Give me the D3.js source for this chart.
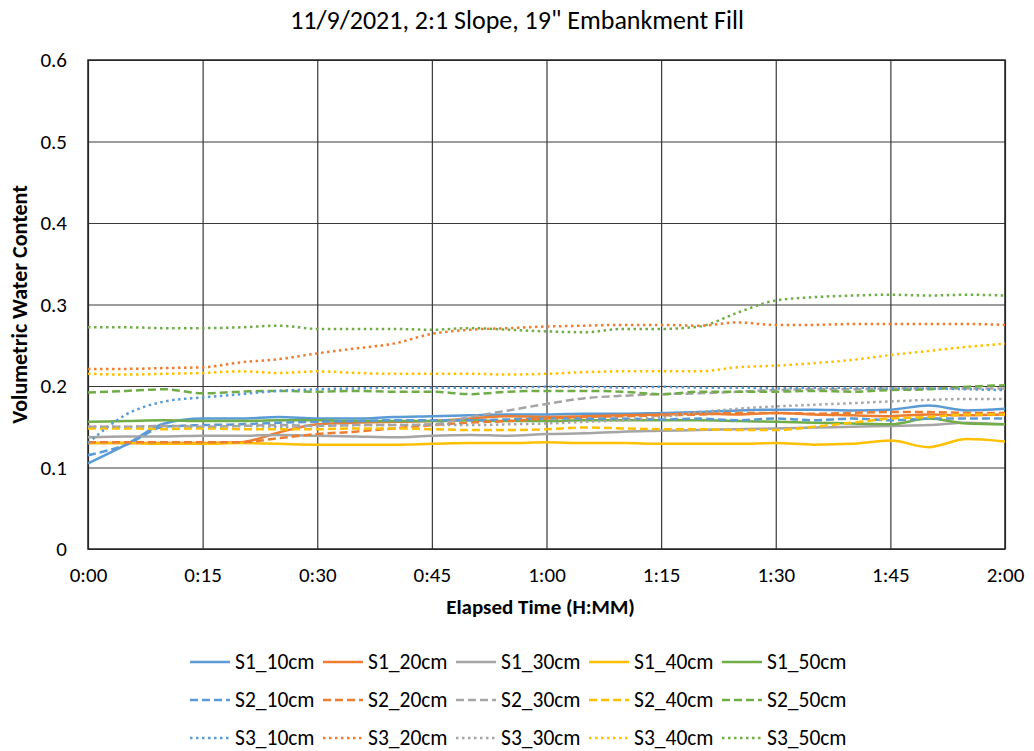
<!DOCTYPE html>
<html><head><meta charset="utf-8">
<script src="https://cdn.jsdelivr.net/npm/d3@7"></script>
<style>
body{margin:0;background:#fff}
text{font-family:Carlito,Calibri,Lato,sans-serif;fill:#000}
</style>
</head><body>
<svg id="chart" width="1034" height="751"></svg>
<script>
// ---- data ----
const minutes = [0,5,10,15,20,25,30,35,40,45,50,55,60,65,70,75,80,85,90,95,100,105,110,115,120];
const S1_10cm = [0.105,0.128,0.154,0.160,0.160,0.162,0.160,0.160,0.162,0.163,0.164,0.165,0.165,0.166,0.166,0.167,0.168,0.170,0.171,0.171,0.170,0.171,0.176,0.170,0.172];
const S1_20cm = [0.130,0.130,0.130,0.130,0.131,0.143,0.153,0.155,0.156,0.157,0.160,0.163,0.162,0.163,0.164,0.165,0.166,0.165,0.167,0.165,0.164,0.163,0.165,0.164,0.165];
const S1_30cm = [0.137,0.138,0.138,0.139,0.139,0.140,0.139,0.138,0.137,0.139,0.140,0.139,0.141,0.142,0.144,0.145,0.146,0.147,0.148,0.149,0.150,0.151,0.152,0.155,0.153];
const S1_40cm = [0.130,0.130,0.129,0.129,0.130,0.129,0.128,0.128,0.128,0.129,0.130,0.130,0.131,0.130,0.130,0.129,0.129,0.129,0.130,0.128,0.129,0.133,0.125,0.135,0.132];
const S1_50cm = [0.156,0.157,0.158,0.157,0.157,0.158,0.158,0.157,0.157,0.157,0.158,0.157,0.157,0.158,0.158,0.158,0.158,0.157,0.156,0.155,0.154,0.153,0.160,0.154,0.153];
const S2_10cm = [0.115,0.128,0.150,0.152,0.153,0.155,0.156,0.157,0.158,0.158,0.158,0.159,0.160,0.160,0.160,0.159,0.160,0.158,0.160,0.158,0.160,0.158,0.160,0.160,0.160];
const S2_20cm = [0.131,0.131,0.131,0.131,0.131,0.136,0.141,0.144,0.148,0.152,0.155,0.157,0.160,0.162,0.163,0.164,0.165,0.167,0.167,0.166,0.167,0.168,0.168,0.167,0.167];
const S2_30cm = [0.150,0.150,0.151,0.150,0.151,0.152,0.151,0.152,0.152,0.153,0.162,0.170,0.178,0.185,0.188,0.190,0.191,0.193,0.195,0.196,0.196,0.197,0.197,0.197,0.197];
const S2_40cm = [0.148,0.148,0.147,0.148,0.147,0.147,0.147,0.148,0.148,0.147,0.146,0.146,0.147,0.149,0.148,0.147,0.147,0.146,0.146,0.150,0.155,0.160,0.162,0.165,0.165];
const S2_50cm = [0.192,0.194,0.196,0.191,0.193,0.194,0.193,0.194,0.193,0.193,0.190,0.193,0.194,0.194,0.193,0.190,0.193,0.193,0.193,0.194,0.193,0.195,0.196,0.199,0.201];
const S3_10cm = [0.130,0.165,0.181,0.186,0.190,0.194,0.196,0.197,0.198,0.198,0.198,0.198,0.199,0.199,0.198,0.199,0.198,0.198,0.197,0.198,0.198,0.197,0.197,0.196,0.195];
const S3_20cm = [0.221,0.221,0.222,0.223,0.229,0.233,0.240,0.246,0.252,0.264,0.269,0.271,0.273,0.274,0.275,0.275,0.274,0.278,0.275,0.275,0.276,0.276,0.276,0.276,0.275];
const S3_30cm = [0.150,0.150,0.151,0.150,0.151,0.150,0.151,0.152,0.152,0.152,0.152,0.153,0.154,0.156,0.158,0.162,0.168,0.172,0.175,0.177,0.179,0.181,0.183,0.184,0.184];
const S3_40cm = [0.215,0.214,0.215,0.216,0.218,0.216,0.218,0.216,0.215,0.215,0.215,0.214,0.215,0.217,0.218,0.218,0.218,0.223,0.225,0.228,0.232,0.238,0.243,0.248,0.252];
const S3_50cm = [0.272,0.272,0.271,0.271,0.272,0.274,0.270,0.270,0.270,0.269,0.271,0.269,0.267,0.266,0.270,0.270,0.273,0.290,0.305,0.309,0.311,0.312,0.311,0.312,0.311];

const seriesNames = ["S1_10cm","S1_20cm","S1_30cm","S1_40cm","S1_50cm",
                     "S2_10cm","S2_20cm","S2_30cm","S2_40cm","S2_50cm",
                     "S3_10cm","S3_20cm","S3_30cm","S3_40cm","S3_50cm"];
const seriesValues = [S1_10cm,S1_20cm,S1_30cm,S1_40cm,S1_50cm,
                      S2_10cm,S2_20cm,S2_30cm,S2_40cm,S2_50cm,
                      S3_10cm,S3_20cm,S3_30cm,S3_40cm,S3_50cm];
const xTickMinutes = [0,15,30,45,60,75,90,105,120];
const xTickLabels = ["0:00","0:15","0:30","0:45","1:00","1:15","1:30","1:45","2:00"];
const yTicks = [0,0.1,0.2,0.3,0.4,0.5,0.6];
const yTickLabels = ["0","0.1","0.2","0.3","0.4","0.5","0.6"];

// ---- styles ----
const depthColors = ["#5B9BD5","#ED7D31","#A5A5A5","#FFC000","#70AD47"];
const sensorDash = [null,"8,4","2.5,3.5"];

const svg = d3.select("#chart");
const L=88, R=1005, T=60, B=549;
const x = d3.scaleLinear().domain([0,120]).range([L,R]);
const y = d3.scaleLinear().domain([0,0.6]).range([B,T]);

// title
svg.append("text").attr("x",517).attr("y",29).attr("text-anchor","middle")
  .style("font-size","26px").text('11/9/2021, 2:1 Slope, 19" Embankment Fill');

// gridlines
const gy = svg.append("g").attr("transform",`translate(${L},0)`)
  .call(d3.axisLeft(y).tickValues(yTicks).tickSize(-(R-L)).tickFormat((d,i)=>yTickLabels[i]));
gy.select(".domain").remove();
gy.selectAll("line").attr("stroke","#3a3a3a").attr("stroke-width",1.2);
gy.selectAll("text").attr("x",-21).style("font-size","21px");

const gx = svg.append("g").attr("transform",`translate(0,${B})`)
  .call(d3.axisBottom(x).tickValues(xTickMinutes).tickSize(-(B-T)).tickFormat((d,i)=>xTickLabels[i]));
gx.select(".domain").remove();
gx.selectAll("line").attr("stroke","#3a3a3a").attr("stroke-width",1.2);
gx.selectAll("text").attr("y",18).style("font-size","21px");

svg.append("rect").attr("x",L).attr("y",T).attr("width",R-L).attr("height",B-T)
  .attr("fill","none").attr("stroke","#222").attr("stroke-width",1.5);

// series
const line = d3.line().x((d,i)=>x(minutes[i])).y(d=>y(d)).curve(d3.curveMonotoneX);
seriesValues.forEach((vals,k)=>{
  const p = svg.append("path").datum(vals).attr("d",line)
    .attr("fill","none").attr("stroke",depthColors[k%5]).attr("stroke-width",2.5)
    .attr("stroke-linejoin","round");
  const dsh = sensorDash[Math.floor(k/5)];
  if(dsh) p.attr("stroke-dasharray",dsh);
});

// axis titles
svg.append("text").attr("x",(L+R)/2 - 6).attr("y",614).attr("text-anchor","middle")
  .style("font-size","21px").style("font-weight","bold").text("Elapsed Time (H:MM)");
svg.append("text").attr("transform",`translate(27,${(T+B)/2}) rotate(-90)`).attr("text-anchor","middle")
  .style("font-size","22px").style("font-weight","bold").text("Volumetric Water Content");

// legend
const leg = svg.append("g");
seriesNames.forEach((name,k)=>{
  const col=k%5, row=Math.floor(k/5);
  const lx = 190 + col*133, ly = 662 + row*38;
  const l = leg.append("line").attr("x1",lx).attr("x2",lx+40).attr("y1",ly).attr("y2",ly)
    .attr("stroke",depthColors[col]).attr("stroke-width",2.5);
  if(sensorDash[row]) l.attr("stroke-dasharray",sensorDash[row]);
  leg.append("text").attr("x",lx+45).attr("y",ly+7).style("font-size","21.5px").text(name);
});
</script>
</body></html>
